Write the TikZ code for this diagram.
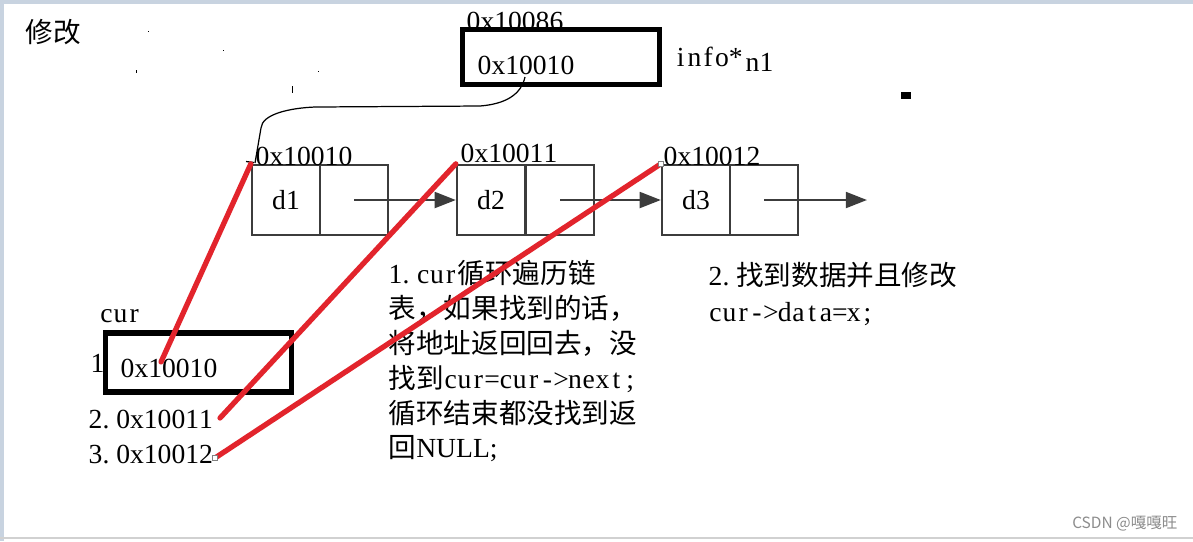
\documentclass[tikz,border=0pt]{standalone}
\usepackage{fontspec}
\setmainfont{Liberation Serif}
\newfontfamily\cjk{Noto Sans CJK SC}
\usetikzlibrary{arrows.meta}
\definecolor{redline}{RGB}{226,36,44}
\definecolor{band}{RGB}{200,211,224}
\definecolor{boxgray}{RGB}{60,60,60}
\newcommand\dt{\makebox[0.5em][l]{.}}
\newcommand\mono[1]{\monoi#1\relax}
\def\monoi#1{\ifx#1\relax\else\makebox[0.5em][c]{#1}\expandafter\monoi\fi}
\begin{document}
\begin{tikzpicture}[x=0.01cm,y=-0.01cm,
  txt/.style={inner sep=0pt, anchor=base west, font=\fontsize{7.85}{9}\selectfont},
  cell/.style={draw=boxgray, line width=0.65pt, minimum width=0.68cm, minimum height=0.70cm, inner sep=0pt, font=\fontsize{7.85}{9}\selectfont},
  thickbox/.style={draw=black, line width=1.45pt, fill=white, inner sep=0pt},
  redc/.style={draw=redline, line width=1.5pt, line cap=round},
  link/.style={draw=boxgray, line width=0.7pt, -{Triangle[length=6pt,width=4.5pt]}},
  handle/.style={draw=gray, fill=white, line width=0.25pt, minimum size=1.3pt, inner sep=0pt},
]
\useasboundingbox (0,0) rectangle (1193,541);
\fill[white] (0,0) rectangle (1193,541);
% frame bands
\fill[band] (0,0) rectangle (1193,4);
\fill[band] (0,0) rectangle (4,541);
\fill[black!18] (0,537) rectangle (1193,539);

% title
\node[txt] (title) at (25,42) {\cjk 修改};

% stray marks
\fill (147.5,30.5) rectangle (148.5,31.5);
\fill (222.5,49.5) rectangle (223.5,50.5);
\fill (135.5,70) rectangle (137,73);
\fill (318,71) rectangle (319,72);
\fill (291.5,86) rectangle (292.5,93);
\fill (901,92) rectangle (911,99);

% n1 pointer box
\node[txt] (n1addr) at (466,30) {\mono{0x10086}};
\node[thickbox, minimum width=1.97cm, minimum height=0.55cm] (n1) at (561,57) {};
\node[txt] (n1val) at (477,74) {\mono{0x10010}};
\node[txt] (n1type) at (673,66) {\mono{info*}};
\node[txt] (n1name) at (745,71) {\mono{n1}};

% linked list
\node[cell] (c1a) at (286,200) {\mono{d1}};
\node[cell] (c1b) at (354,200) {};
\node[cell] (c2a) at (491,200) {\mono{d2}};
\node[cell] (c2b) at (560,200) {};
\node[cell] (c3a) at (696,200) {\mono{d3}};
\node[cell] (c3b) at (764,200) {};
\coordinate (end3) at (867,200);
\draw[link] (c1b.center) -- (c2a.west);
\draw[link] (c2b.center) -- (c3a.west);
\draw[link] (c3b.center) -- (end3);

\node[txt] (a1) at (255,165) {\mono{0x10010}};
\node[txt] (a2) at (460,162) {\mono{0x10011}};
\node[txt] (a3) at (663,165) {\mono{0x10012}};

% thin pointer curve
\coordinate (pstart) at (525,77);
\draw[line width=0.35pt] (pstart) .. controls (521,95) and (505,104) .. (480,106)
  -- (315,107) .. controls (290,108) and (262,114) .. (261,128) -- (255,163);
\draw[line width=0.35pt] (246,161.5) -- (254,162.5);

% cur box
\node[txt] (curlbl) at (99,322) {\mono{cur}};
\node[thickbox, minimum width=1.85cm, minimum height=0.59cm] (cur) at (198.5,362.5) {};
\node[txt] (s1) at (90,372) {1};
\node[txt] (curval) at (120,377) {\mono{0x10010}};
\node[txt] (s2) at (88,428) {2\dt\mono{0x10011}};
\node[txt] (s3) at (88,463) {3\dt\mono{0x10012}};

% explanation 1
\node[txt] (e1) at (388,283) {1\dt\mono{cur}{\cjk 循环遍历链}};
\node[txt] (e2) at (388,318) {\cjk 表，如果找到的话，};
\node[txt] (e3) at (388,353) {\cjk 将地址返回回去，没};
\node[txt] (e4) at (388,388) {{\cjk 找到}\mono{cur=cur->next;}};
\node[txt] (e5) at (388,423) {\cjk 循环结束都没找到返};
\node[txt] (e6) at (388,457) {{\cjk 回}NULL;};

% explanation 2
\node[txt] (f1) at (708,285) {2\dt{\cjk 找到数据并且修改}};
\node[txt] (f2) at (708,321) {\mono{cur->data=x;}};

% red connectors
\coordinate (r1) at (161,362);
\coordinate (r2) at (220,418);
\coordinate (r3) at (215,458);
\draw[redc] (r1) -- (c1a.north west);
\draw[redc] (r2) -- (c2a.north west);
\draw[redc] (r3) -- (c3a.north west);
\node[handle] (h1) at (r3) {};
\node[handle] (h2) at (c3a.north west) {};

% watermark
\node[anchor=base east, inner sep=0pt, text=black!45, font=\cjk\fontsize{4.4}{5}\selectfont] (wm) at (1178,528) {CSDN @嘎嘎旺};
\end{tikzpicture}
\end{document}
